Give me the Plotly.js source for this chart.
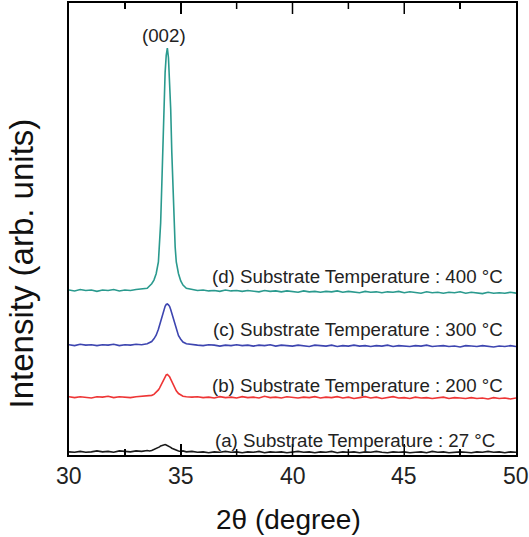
<!DOCTYPE html>
<html>
<head>
<meta charset="utf-8">
<script src="https://cdn.plot.ly/plotly-3.0.1.min.js"></script>
<style>html,body{margin:0;padding:0;background:#fff;}#chart{width:529px;height:537px;}</style>
</head>
<body>
<div id="chart"></div>
<script>
// 2θ sample positions (degree)
const twoTheta = [
30.00,30.25,30.50,30.75,31.00,31.25,31.50,31.75,32.00,32.25,32.50,32.75,33.00,33.25,33.50,
33.60,33.70,33.80,33.90,34.00,34.05,34.10,34.15,34.20,34.25,34.30,34.35,34.40,34.45,34.50,34.55,34.60,34.65,34.70,34.75,34.80,34.90,35.00,35.10,35.25,
35.50,35.75,36.00,36.25,36.50,36.75,37.00,37.25,37.50,37.75,38.00,38.25,38.50,38.75,39.00,39.25,39.50,39.75,40.00,40.25,40.50,40.75,41.00,41.25,41.50,41.75,42.00,42.25,42.50,42.75,43.00,43.25,43.50,43.75,44.00,44.25,44.50,44.75,45.00,45.25,45.50,45.75,46.00,46.25,46.50,46.75,47.00,47.25,47.50,47.75,48.00,48.25,48.50,48.75,49.00,49.25,49.50,49.75,50.00
];

// (d) 400 °C (offset intensity, arb. units)
const intensity400 = [
36.5,36.3,36.6,36.4,36.5,36.2,36.5,36.4,36.6,36.3,36.5,36.4,36.6,36.7,36.9,
37.4,37.9,38.7,40.1,42.7,46.5,51.3,59.4,68.0,78.2,84.6,88.4,90.0,87.9,83.6,76.6,66.9,58.3,50.8,46.0,42.7,40.1,38.5,37.6,36.9,
36.6,36.4,36.5,36.3,36.4,36.2,36.5,36.3,36.4,36.2,
36.4,36.3,36.1,36.4,36.2,36.3,36.1,36.3,36.2,36.0,
36.3,36.1,36.2,36.0,36.2,36.1,36.3,36.0,36.2,36.1,
35.9,36.2,36.0,36.1,35.9,36.1,36.0,36.2,35.9,36.1,
36.0,35.8,36.1,35.9,36.0,35.8,36.0,35.9,36.1,35.8,
36.0,35.9,35.7,36.0,35.8,35.9,35.8,36.0,35.8
];

// (c) 300 °C
const intensity300 = [
24.4,24.2,24.5,24.3,24.4,24.2,24.4,24.3,24.5,24.2,24.4,24.3,24.5,24.4,24.6,
24.8,25.1,25.7,26.5,27.8,28.6,29.5,30.5,31.5,32.3,32.9,33.3,33.4,33.2,32.9,32.2,31.4,30.4,29.4,28.5,27.7,26.4,25.6,25.0,24.6,
24.4,24.3,24.2,24.4,24.3,24.1,24.3,24.2,24.4,24.2,
24.3,24.1,24.3,24.2,24.4,24.1,24.3,24.2,24.1,24.3,
24.2,24.0,24.3,24.2,24.1,24.3,24.0,24.2,24.1,24.3,
24.1,24.2,24.0,24.2,24.1,24.3,24.0,24.2,24.1,24.0,
24.2,24.1,24.3,24.0,24.1,24.2,24.0,24.1,23.9,24.2,
24.1,24.0,24.2,24.1,23.9,24.1,24.0,24.2,24.0
];

// (b) 200 °C
const intensity200 = [
12.9,12.7,12.9,12.8,12.6,12.9,12.8,13.0,12.7,12.9,12.8,12.7,12.9,13.0,13.1,
13.1,13.2,13.4,13.8,14.4,14.8,15.3,15.8,16.4,17.0,17.5,17.7,17.8,17.6,17.3,16.8,16.2,15.6,15.1,14.6,14.2,13.6,13.2,13.0,12.9,
12.8,12.9,12.7,12.8,12.6,12.9,12.7,12.8,12.6,12.9,
12.7,12.8,12.6,13.0,12.7,12.8,12.6,12.9,12.7,12.6,
12.8,12.7,12.9,12.6,12.8,12.7,12.9,12.6,12.8,12.5,
12.7,12.9,12.6,12.8,12.5,12.7,12.9,12.6,12.7,12.5,
12.8,12.6,12.7,12.5,12.6,12.8,12.5,12.7,12.6,12.5,
12.7,12.5,12.6,12.4,12.7,12.5,12.6,12.4,12.6
];

// (a) 27 °C
const intensity27 = [
0.7,0.6,0.8,0.6,0.7,0.9,0.7,0.8,0.6,0.9,0.8,0.7,0.9,0.8,1.0,
0.9,1.0,1.2,1.4,1.7,1.8,2.0,2.1,2.2,2.3,2.3,2.2,2.1,2.0,1.8,1.7,1.5,1.4,1.2,1.1,1.0,0.9,0.8,0.9,0.7,
0.8,0.6,0.7,0.5,0.7,0.6,0.8,0.6,0.7,0.5,
0.7,0.6,0.8,0.5,0.7,0.6,0.7,0.5,0.6,0.8,
0.6,0.7,0.5,0.7,0.6,0.8,0.5,0.7,0.6,0.7,
0.5,0.7,0.6,0.8,0.6,0.5,0.7,0.6,0.7,0.5,
0.6,0.7,0.5,0.8,0.6,0.7,0.5,0.6,0.7,0.6,
0.5,0.7,0.6,0.8,0.6,0.7,0.5,0.7,0.6
];

const seriesLabels = [
  "(a) Substrate Temperature : 27 °C",
  "(b) Substrate Temperature : 200 °C",
  "(c) Substrate Temperature : 300 °C",
  "(d) Substrate Temperature : 400 °C"
];
const peakLabel = "(002)";
const xTickVals = [30, 35, 40, 45, 50];
const xTickText = ["30", "35", "40", "45", "50"];
const majorTicks = [35, 40, 45];
const minorTicks = [32.5, 37.5, 42.5, 47.5];

const FONT = "Liberation Sans, Arial, Helvetica, sans-serif";
const seriesData = [intensity27, intensity200, intensity300, intensity400];
const colors = ["#1a1a1a", "#ee3535", "#3d45b0", "#2a9a8e"];

const traces = seriesData.map((ys, i) => ({
  x: twoTheta, y: ys, type: "scatter", mode: "lines",
  line: {color: colors[i], width: 1.6}, name: seriesLabels[i], hoverinfo: "skip"
}));

const labelPos = [
  {x: 49.15, y: 3.3},
  {x: 49.5, y: 15.3},
  {x: 49.5, y: 27.7},
  {x: 49.5, y: 39.4}
];
const annotations = seriesLabels.map((t, i) => ({
  text: t, x: labelPos[i].x, y: labelPos[i].y, xref: "x", yref: "y",
  xanchor: "right", yanchor: "middle", showarrow: false,
  font: {family: FONT, size: 18.7, color: "#222"}
}));
annotations.push({
  text: peakLabel, x: 34.27, y: 92.9, xref: "x", yref: "y",
  xanchor: "center", yanchor: "middle", showarrow: false,
  font: {family: FONT, size: 18.7, color: "#222"}
});
annotations.push({
  text: "Intensity (arb. units)", x: -0.1074, y: 0.4237, xref: "paper", yref: "paper",
  xanchor: "center", yanchor: "middle", showarrow: false, textangle: -90,
  font: {family: FONT, size: 33, color: "#111"}
});
// x tick labels and x title, placed on the x data scale
xTickVals.forEach((v, i) => annotations.push({
  text: xTickText[i], x: v, y: -0.046, xref: "x", yref: "paper",
  xanchor: "center", yanchor: "middle", showarrow: false,
  font: {family: FONT, size: 23, color: "#222"}
}));
annotations.push({
  text: "2θ (degree)", x: 0.49, y: -0.1416, xref: "paper", yref: "paper",
  xanchor: "center", yanchor: "middle", showarrow: false,
  font: {family: FONT, size: 28, color: "#111"}
});

// inside tick marks (bottom and mirrored top), lengths as fraction of plot height
const plotH = 537 - 3 - 82;
const shapes = [];
function addTicks(vals, lenPx) {
  const f = lenPx / plotH;
  vals.forEach(v => {
    shapes.push({type: "line", xref: "x", yref: "paper", x0: v, x1: v, y0: 0, y1: f, line: {color: "#000", width: 1.5}, layer: "above"});
    shapes.push({type: "line", xref: "x", yref: "paper", x0: v, x1: v, y0: 1, y1: 1 - f, line: {color: "#000", width: 1.5}, layer: "above"});
  });
}
addTicks(majorTicks, 11);
addTicks(minorTicks, 6);

const layout = {
  width: 529, height: 537,
  margin: {l: 69, r: 13, t: 3, b: 82},
  paper_bgcolor: "#fff", plot_bgcolor: "#fff",
  showlegend: false,
  xaxis: {
    range: [30, 50], tickmode: "linear", tick0: 30, dtick: 5,
    ticks: "inside", ticklen: 11, tickwidth: 1.5, tickcolor: "#000",
    showticklabels: false,
    showline: true, linewidth: 2, linecolor: "#000", mirror: "allticks",
    showgrid: false, zeroline: false,
    minor: {tickmode: "linear", tick0: 30, dtick: 2.5, ticks: "inside", ticklen: 6, tickwidth: 1.5, tickcolor: "#000", showgrid: false},
    automargin: false
  },
  yaxis: {
    range: [0, 100], showticklabels: false, ticks: "",
    showline: true, linewidth: 2, linecolor: "#000", mirror: true,
    showgrid: false, zeroline: false, automargin: false
  },
  shapes: shapes,
  annotations: annotations
};

Plotly.newPlot("chart", traces, layout, {staticPlot: true, displayModeBar: false});
</script>
</body>
</html>
